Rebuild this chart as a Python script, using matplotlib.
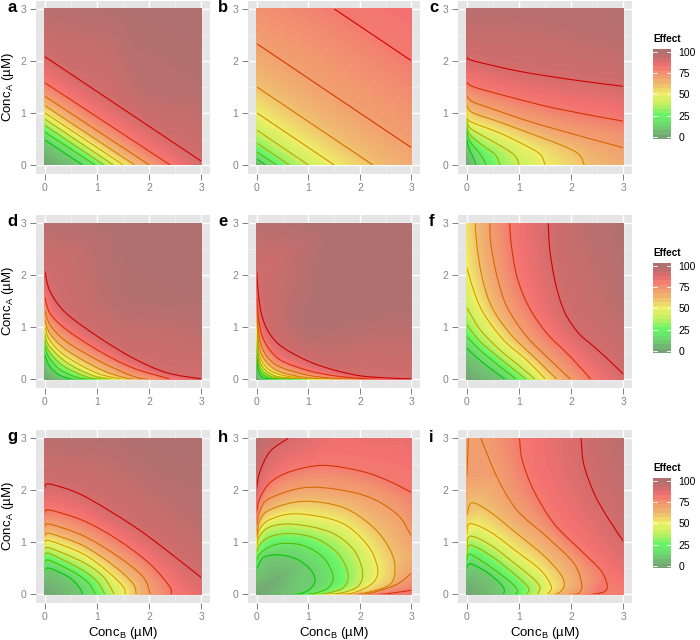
import numpy as np
import matplotlib
matplotlib.use('Agg')
import matplotlib.pyplot as plt
from matplotlib.colors import LinearSegmentedColormap, Normalize
from matplotlib.patches import PathPatch, Rectangle
from matplotlib.path import Path
from matplotlib.tri import Triangulation

plt.rcParams['font.family'] = 'Liberation Sans'
plt.rcParams['mathtext.fontset'] = 'custom'
plt.rcParams['mathtext.rm'] = 'Liberation Sans'

# Isolines: (level, ConcB values, ConcA values)
lines_a = [
    (10, [0, .72], [.48, 0]), (20, [0, .96], [.63, 0]), (30, [0, 1.13], [.76, 0]),
    (40, [0, 1.31], [.88, 0]), (50, [0, 1.5], [1.0, 0]), (60, [0, 1.72], [1.14, 0]),
    (70, [0, 2.0], [1.32, 0]), (80, [0, 2.4], [1.58, 0]), (90, [0, 3], [2.08, .07]),
]
extra_a = [(0, 0, 0), (0, 3, 97), (1.5, 3, 99), (3, 3, 100), (3, 1.5, 98), (3, 0, 89), (2, 1.5, 97)]

lines_b = [
    (10, [0, .17], [.115, 0]), (20, [0, .38], [.25, 0]), (30, [0, .63], [.42, 0]),
    (40, [0, 1.0], [.67, 0]), (50, [0, 1.5], [1.0, 0]), (60, [0, 2.25], [1.5, 0]),
    (70, [0, 3], [2.33, .33]), (80, [1.5, 3], [3, 2.0]),
]
extra_b = [(0, 0, 0), (0, 3, 75), (3, 3, 83), (3, 0, 67)]

lines_c = [
    (10, [0, .05, .13, .17], [.49, .29, .13, 0]),
    (20, [0, .06, .26, .37], [.65, .45, .2, 0]),
    (30, [0, .06, .32, .54, .64], [.77, .58, .36, .2, 0]),
    (40, [0, .06, .32, .71, .93, 1.0], [.88, .71, .55, .33, .17, 0]),
    (50, [0, .06, .64, 1.15, 1.41, 1.5], [1.0, .84, .61, .36, .2, 0]),
    (60, [0, .1, .64, 1.28, 1.86, 2.15, 2.25], [1.15, 1.01, .82, .58, .36, .2, 0]),
    (70, [0, .1, .45, 1.41, 3], [1.33, 1.22, 1.09, .77, .33]),
    (80, [0, .13, .77, 1.73, 3], [1.59, 1.5, 1.32, 1.08, .84]),
    (90, [0, .13, 1, 2, 3], [2.07, 2.0, 1.8, 1.64, 1.51]),
]
extra_c = [(0, 0, 0), (0, 3, 97), (1.5, 3, 98), (3, 3, 98), (3, 0, 67), (3, 2.3, 96)]

lines_d = [
    (10, [0, .08, .25, .5, .72], [.48, .27, .1, .01, 0]),
    (20, [0, .08, .3, .65, .96], [.63, .42, .18, .03, 0]),
    (30, [0, .08, .35, .8, 1.13], [.76, .54, .26, .05, 0]),
    (40, [0, .08, .41, .9, 1.31], [.88, .65, .33, .08, 0]),
    (50, [0, .1, .41, 1.0, 1.5], [1.0, .74, .44, .12, 0]),
    (60, [0, .1, .41, 1.05, 1.5, 1.72], [1.14, .88, .57, .2, .04, 0]),
    (70, [0, .1, .41, 1.05, 1.69, 2.0], [1.32, 1.05, .73, .35, .06, 0]),
    (80, [0, .1, .41, 1.05, 1.69, 2.39], [1.58, 1.27, .96, .54, .22, .01]),
    (90, [0, .1, .41, 1.05, 1.69, 2.33, 3], [2.08, 1.69, 1.27, .8, .41, .13, .01]),
]
extra_d = [(0, 0, 0), (0, 3, 97), (1.5, 3, 100), (3, 3, 100), (3, 1.5, 99), (3, 0, 90), (1.5, 1.5, 98)]

lines_e = [
    (10, [0, .03, .1, .25, .72], [.48, .17, .05, .01, 0]),
    (20, [0, .03, .1, .25, .5, .96], [.63, .27, .11, .03, .01, 0]),
    (30, [0, .03, .1, .25, .5, 1.13], [.76, .38, .18, .07, .02, 0]),
    (40, [0, .03, .1, .25, .5, 1.31], [.88, .48, .26, .12, .04, 0]),
    (50, [0, .03, .1, .25, .5, 1, 1.5], [1, .6, .35, .18, .08, .01, 0]),
    (60, [0, .03, .1, .25, .5, 1, 1.72], [1.14, .75, .47, .27, .13, .03, 0]),
    (70, [0, .03, .1, .25, .5, 1, 1.5, 2], [1.32, .95, .62, .38, .22, .08, .02, 0]),
    (80, [0, .03, .1, .25, .5, 1, 1.5, 2, 2.4], [1.58, 1.2, .85, .57, .35, .17, .07, .02, 0]),
    (90, [0, .03, .1, .25, .5, 1, 1.5, 2, 2.5, 3], [2.08, 1.65, 1.22, .88, .62, .35, .18, .07, .03, .01]),
]
extra_e = [(0, 0, 0), (0, 3, 97), (1.5, 3, 100), (3, 3, 100), (3, 1.5, 100), (3, 0, 90), (1, 1, 99)]

lines_f = [
    (10, [0, .32, .74], [.6, .31, 0]),
    (20, [0, .32, .95], [.82, .5, 0]),
    (30, [0, .26, .64, 1.14], [1.05, .72, .4, 0]),
    (40, [0, .26, .64, 1.03, 1.31], [1.38, .95, .56, .24, 0]),
    (50, [0, .13, .32, .71, 1.15, 1.51], [2.15, 1.71, 1.27, .75, .37, 0]),
    (60, [.16, .19, .29, .48, .83, 1.35, 1.73], [3, 2.6, 1.97, 1.39, .88, .37, 0]),
    (70, [.44, .46, .58, .77, 1.15, 1.6, 1.99], [3, 2.6, 1.97, 1.39, .82, .37, 0]),
    (80, [.82, .85, .96, 1.19, 1.54, 1.99, 2.38], [3, 2.6, 1.97, 1.39, .88, .43, 0]),
    (90, [1.56, 1.59, 1.7, 1.87, 2.13, 2.4, 2.69, 3], [3, 2.48, 1.84, 1.3, .9, .66, .4, .1]),
]
extra_f = [(0, 0, 0), (0, 3, 53), (2.25, 3, 96), (3, 3, 99), (3, 1.5, 97), (3, 0, 89)]

lines_g = [
    (10, [0, .1, .45, .65, .73], [.48, .5, .34, .15, 0]),
    (20, [0, .1, .6, .85, .97], [.63, .65, .4, .2, 0]),
    (30, [0, .1, .7, 1.0, 1.15], [.76, .78, .48, .25, 0]),
    (40, [0, .1, .73, 1.12, 1.33], [.87, .89, .62, .34, 0]),
    (50, [0, .1, .73, 1.18, 1.5, 1.54], [1.0, 1.03, .78, .46, .15, 0]),
    (60, [0, .1, .73, 1.31, 1.69, 1.75], [1.13, 1.17, .94, .56, .21, 0]),
    (70, [0, .1, .73, 1.37, 1.88, 2.02], [1.31, 1.35, 1.13, .75, .34, 0]),
    (80, [0, .1, .73, 1.37, 2.01, 2.39, 2.42], [1.58, 1.62, 1.42, 1.07, .59, .15, 0]),
    (90, [0, .1, .73, 1.69, 2.33, 3], [2.06, 2.12, 1.9, 1.32, .85, .32]),
]
extra_g = [(0, 0, 0), (0, 3, 97), (1.5, 3, 99), (3, 3, 100), (3, 1.5, 97), (3, 0, 86)]

lines_h = [
    (10, [0, .13, .42, .77, 1.03, 1.13, 1.06, .9, .72], [.49, .71, .76, .68, .49, .29, .13, .03, 0]),
    (20, [0, .06, .26, .52, .9, 1.29, 1.48, 1.39, 1.15, .96], [.65, .78, .92, .98, .94, .71, .35, .13, .03, 0]),
    (30, [0, .06, .26, .65, 1.16, 1.58, 1.77, 1.68, 1.35, 1.13], [.81, .96, 1.11, 1.17, 1.07, .78, .39, .13, .02, 0]),
    (40, [0, .06, .26, .71, 1.42, 1.87, 2.05, 1.97, 1.65, 1.31], [.94, 1.13, 1.3, 1.35, 1.2, .87, .45, .16, .03, 0]),
    (50, [0, .06, .26, .77, 1.61, 2.13, 2.34, 2.26, 1.87, 1.5], [1.04, 1.26, 1.44, 1.55, 1.39, .97, .52, .23, .03, 0]),
    (60, [0, .06, .26, .9, 1.68, 2.26, 2.58, 2.68, 2.58, 2.06, 1.72], [1.13, 1.42, 1.63, 1.79, 1.67, 1.29, .87, .52, .19, .02, 0]),
    (70, [0, .06, .26, 1.03, 2.06, 2.71, 3], [1.33, 1.6, 1.85, 2.06, 1.91, 1.55, 1.12]),
    (70, [3, 2.71, 2.19, 1.97], [.41, .19, .02, 0]),
    (80, [0, .06, .26, .65, 1.29, 2.06, 2.58, 3], [1.59, 1.85, 2.15, 2.36, 2.48, 2.36, 2.17, 1.96]),
    (80, [3, 2.58, 2.37], [.08, .02, 0]),
    (90, [0, .06, .26, .61], [2.05, 2.36, 2.75, 3]),
]
extra_h = [(0, 0, 0), (.4, .3, 3), (0, 3, 97), (3, 3, 85), (3, 0, 81), (3, .75, 65), (1.5, 3, 84)]

lines_i = [
    (10, [0, .06, .38, .64, .72, .69], [.5, .59, .43, .21, .08, 0]),
    (20, [0, .06, .45, .83, .97, .93], [.65, .77, .53, .24, .08, 0]),
    (30, [0, .06, .45, .9, 1.14, 1.19, 1.14], [.76, .95, .75, .4, .18, .08, 0]),
    (40, [0, .06, .45, .96, 1.31, 1.4, 1.35], [.88, 1.12, .95, .56, .27, .12, 0]),
    (50, [0, .06, .45, .96, 1.41, 1.62, 1.54], [1.15, 1.36, 1.2, .82, .47, .15, 0]),
    (60, [0, .1, .45, .96, 1.47, 1.79, 1.87, 1.79, 1.7], [1.53, 1.76, 1.58, 1.17, .75, .4, .18, .05, 0]),
    (70, [0, .03], [2.27, 3]),
    (70, [.27, .58, .96, 1.54, 2.05, 2.2, 2.15, 2.0], [3, 2.25, 1.62, 1.1, .6, .2, .03, 0]),
    (80, [1.01, 1.06, 1.28, 1.67, 2.18, 2.56, 2.69, 2.63, 2.4], [3, 2.58, 2.0, 1.36, .85, .47, .18, .05, 0]),
    (90, [2.19, 2.24, 2.44, 2.69, 3], [3, 2.5, 1.94, 1.49, 1.02]),
]
extra_i = [(0, 0, 0), (0, 3, 71), (3, 3, 97), (3, 0, 79)]

panel_names = ['a', 'b', 'c', 'd', 'e', 'f', 'g', 'h', 'i']
panel_lines = [lines_a, lines_b, lines_c, lines_d, lines_e, lines_f, lines_g, lines_h, lines_i]
panel_extra = [extra_a, extra_b, extra_c, extra_d, extra_e, extra_f, extra_g, extra_h, extra_i]
legend_ticks = [0, 25, 50, 75, 100]

# Layout in pixels of the reference
cols = [(36, 210), (248, 420), (458, 632)]
rows = [(0.5, 173.5), (215, 388), (430, 603)]
legend_tops = [49, 263, 478]

fill_cmap = LinearSegmentedColormap.from_list('effect', [
    (0, '#74a474'), (.125, '#6fd56f'), (.25, '#68f468'), (.375, '#bff060'), (.5, '#efef68'),
    (.625, '#f0b870'), (.75, '#f29270'), (.83, '#f37070'), (.92, '#cc6c6c'), (1, '#b07070')])
line_cmap = LinearSegmentedColormap.from_list('iso', ['#00cc00', '#a0b000', '#d69c00', '#d86800', '#d40000'])
norm = Normalize(0, 100)

fig = plt.figure(figsize=(7, 6.4), dpi=100)


def axes_px(l, t, r, b):
    return fig.add_axes([l/700, 1 - b/640, (r - l)/700, (b - t)/640])


def smooth_path(xs, ys):
    # bezier through the read points, only changes how the line is drawn
    pts = np.column_stack([xs, ys]).astype(float)
    if len(pts) == 2:
        return Path(pts)
    verts = [pts[0]]
    codes = [Path.MOVETO]
    for i in range(len(pts) - 1):
        p0 = pts[max(i - 1, 0)]
        p3 = pts[min(i + 2, len(pts) - 1)]
        verts += [pts[i] + (pts[i + 1] - p0)/6, pts[i + 1] - (p3 - pts[i])/6, pts[i + 1]]
        codes += [Path.CURVE4]*3
    return Path(verts, codes)


for n, name in enumerate(panel_names):
    r, c = divmod(n, 3)
    ax = axes_px(cols[c][0], rows[r][0], cols[c][1], rows[r][1])
    ax.set_facecolor('#e5e5e5')
    ax.set_xlim(-0.17, 3.165)
    ax.set_ylim(-0.165, 3.16)
    for s in ax.spines.values():
        s.set_visible(False)
    ax.set_axisbelow(True)
    ax.set_xticks([0, 1, 2, 3])
    ax.set_yticks([0, 1, 2, 3])
    ax.set_xticks([.5, 1.5, 2.5], minor=True)
    ax.set_yticks([.5, 1.5, 2.5], minor=True)
    ax.grid(which='major', color='white', lw=1.0)
    ax.grid(which='minor', color='#f2f2f2', lw=0.5)
    ax.tick_params(which='major', length=4.3, width=0.7, color='#808080', labelcolor='#858585',
                   labelsize=7.5, pad=2.5)
    ax.tick_params(which='minor', length=0)

    # surface comes from the isolines (walked along their drawn curves) plus the corner values
    pts = {}
    clip = Rectangle((0, 0), 3, 3, transform=ax.transData)
    top = max(l[0] for l in panel_lines[n])
    for level, xs, ys in panel_lines[n]:
        path = smooth_path(xs, ys)
        for curve, code in path.iter_bezier():
            if code == Path.MOVETO:
                continue
            for x, y in curve(np.linspace(0, 1, 6)):
                pts[(round(float(np.clip(x, 0, 3)), 3), round(float(np.clip(y, 0, 3)), 3))] = level
        col = line_cmap((level - 10)/(top - 10))
        patch = PathPatch(path, fill=False, edgecolor=col, lw=0.8, zorder=3)
        ax.add_patch(patch)
        patch.set_clip_path(clip)
    for x, y, v in panel_extra[n]:
        pts[(x, y)] = v
    px = [k[0] for k in pts]
    py = [k[1] for k in pts]
    tri = Triangulation(px, py)
    ax.tricontourf(tri, list(pts.values()), levels=np.arange(0, 101, 1), cmap=fill_cmap, norm=norm,
                   antialiased=False, extend='both')

    if c == 0:
        ax.text(-0.7, 1.5, r'Conc$_{\mathrm{A}}$ (µM)', rotation=90, fontsize=9.5, ha='center', va='center')
    if r == 2:
        ax.set_xlabel(r'Conc$_{\mathrm{B}}$ (µM)', fontsize=9.5, labelpad=2)
    lx = [7, 218, 429][c]
    ly = [7, 222, 437][r]
    fig.text(lx/700, 1 - ly/640, name, fontsize=12, fontweight='bold', ha='left', va='center')

# Legends
for top in legend_tops:
    lax = axes_px(653, top, 671, top + 90)
    bins = np.linspace(-2.5, 102.5, 22)
    vals = (bins[:-1] + bins[1:])/2
    lax.pcolormesh([0, 1], bins, vals.reshape(-1, 1), cmap=fill_cmap, norm=norm)
    lax.set_xlim(0, 1)
    lax.set_ylim(-2.5, 103)
    lax.set_xticks([])
    lax.set_yticks(legend_ticks)
    lax.yaxis.tick_right()
    lax.tick_params(length=0, labelsize=7.5, pad=5.5, labelcolor='black')
    for s in lax.spines.values():
        s.set_visible(False)
    for t in legend_ticks:
        lax.plot([0, .2], [t, t], color='white', lw=0.6)
        lax.plot([.8, 1], [t, t], color='white', lw=0.6)
    fig.text(653/700, 1 - (top - 10)/640, 'Effect', fontsize=7.2, fontweight='bold', ha='left', va='center')

fig.savefig('out.png', dpi=100)
